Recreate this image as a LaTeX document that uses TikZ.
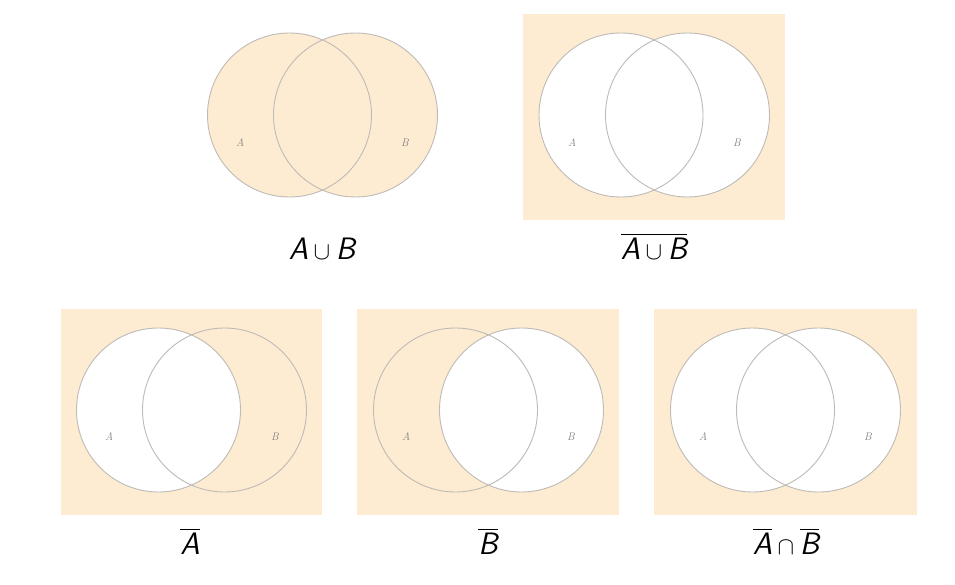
\documentclass[tikz,border=0pt]{standalone}
\usepackage{amsmath}
\definecolor{peach}{RGB}{253,236,210}
\definecolor{ring}{RGB}{190,186,182}
\definecolor{lbl}{RGB}{125,125,125}
\newcommand{\sv}[1]{\mbox{\sffamily\slshape #1}}
\begin{document}
\begin{tikzpicture}[x=1pt,y=-1pt,
  ringline/.style={draw=ring,line width=0.9pt},
  panel/.style={fill=peach},
  setlbl/.style={font=\fontsize{11}{13}\selectfont\itshape,text=lbl,inner sep=0pt},
  caption/.style={font=\fontsize{31}{34}\selectfont,inner sep=0pt}]
\useasboundingbox (0,0) rectangle (955,585);
% ---- A union B
\fill[peach] (289.5,115) circle (82) (355.5,115) circle (82);
\draw[ringline] (289.5,115) circle (82) (355.5,115) circle (82);
\node[setlbl] (a1) at (240,143) {A};
\node[setlbl] (b1) at (405,143) {B};
\node[caption] (c1) at (322,249) {$\sv{A}\cup\sv{B}$};
% ---- complement of union
\fill[panel] (523,14) rectangle (785,220);
\fill[white] (621,115) circle (82) (687.5,115) circle (82);
\draw[ringline] (621,115) circle (82) (687.5,115) circle (82);
\node[setlbl] (a2) at (572,143) {A};
\node[setlbl] (b2) at (737,143) {B};
\node[caption] (c2) at (654,246) {$\overline{\sv{A}\cup\sv{B}}$};
% ---- complement A
\fill[panel] (61,309) rectangle (322,515);
\fill[white] (158.5,410) circle (82);
\draw[ringline] (158.5,410) circle (82) (224.5,410) circle (82);
\node[setlbl] (a3) at (109,437) {A};
\node[setlbl] (b3) at (275,437) {B};
\node[caption] (c3) at (190,541) {$\overline{\sv{A}}$};
% ---- complement B
\fill[panel] (357,309) rectangle (619,515);
\fill[white] (521.5,410) circle (82);
\draw[ringline] (455.5,410) circle (82) (521.5,410) circle (82);
\node[setlbl] (a4) at (406,437) {A};
\node[setlbl] (b4) at (571,437) {B};
\node[caption] (c4) at (488,541) {$\overline{\sv{B}}$};
% ---- intersection of complements
\fill[panel] (654,309) rectangle (917,515);
\fill[white] (752.5,410) circle (82) (818.5,410) circle (82);
\draw[ringline] (752.5,410) circle (82) (818.5,410) circle (82);
\node[setlbl] (a5) at (703,437) {A};
\node[setlbl] (b5) at (868,437) {B};
\node[caption] (c5) at (786,541) {$\overline{\sv{A}}\cap\overline{\sv{B}}$};
\end{tikzpicture}
\end{document}
